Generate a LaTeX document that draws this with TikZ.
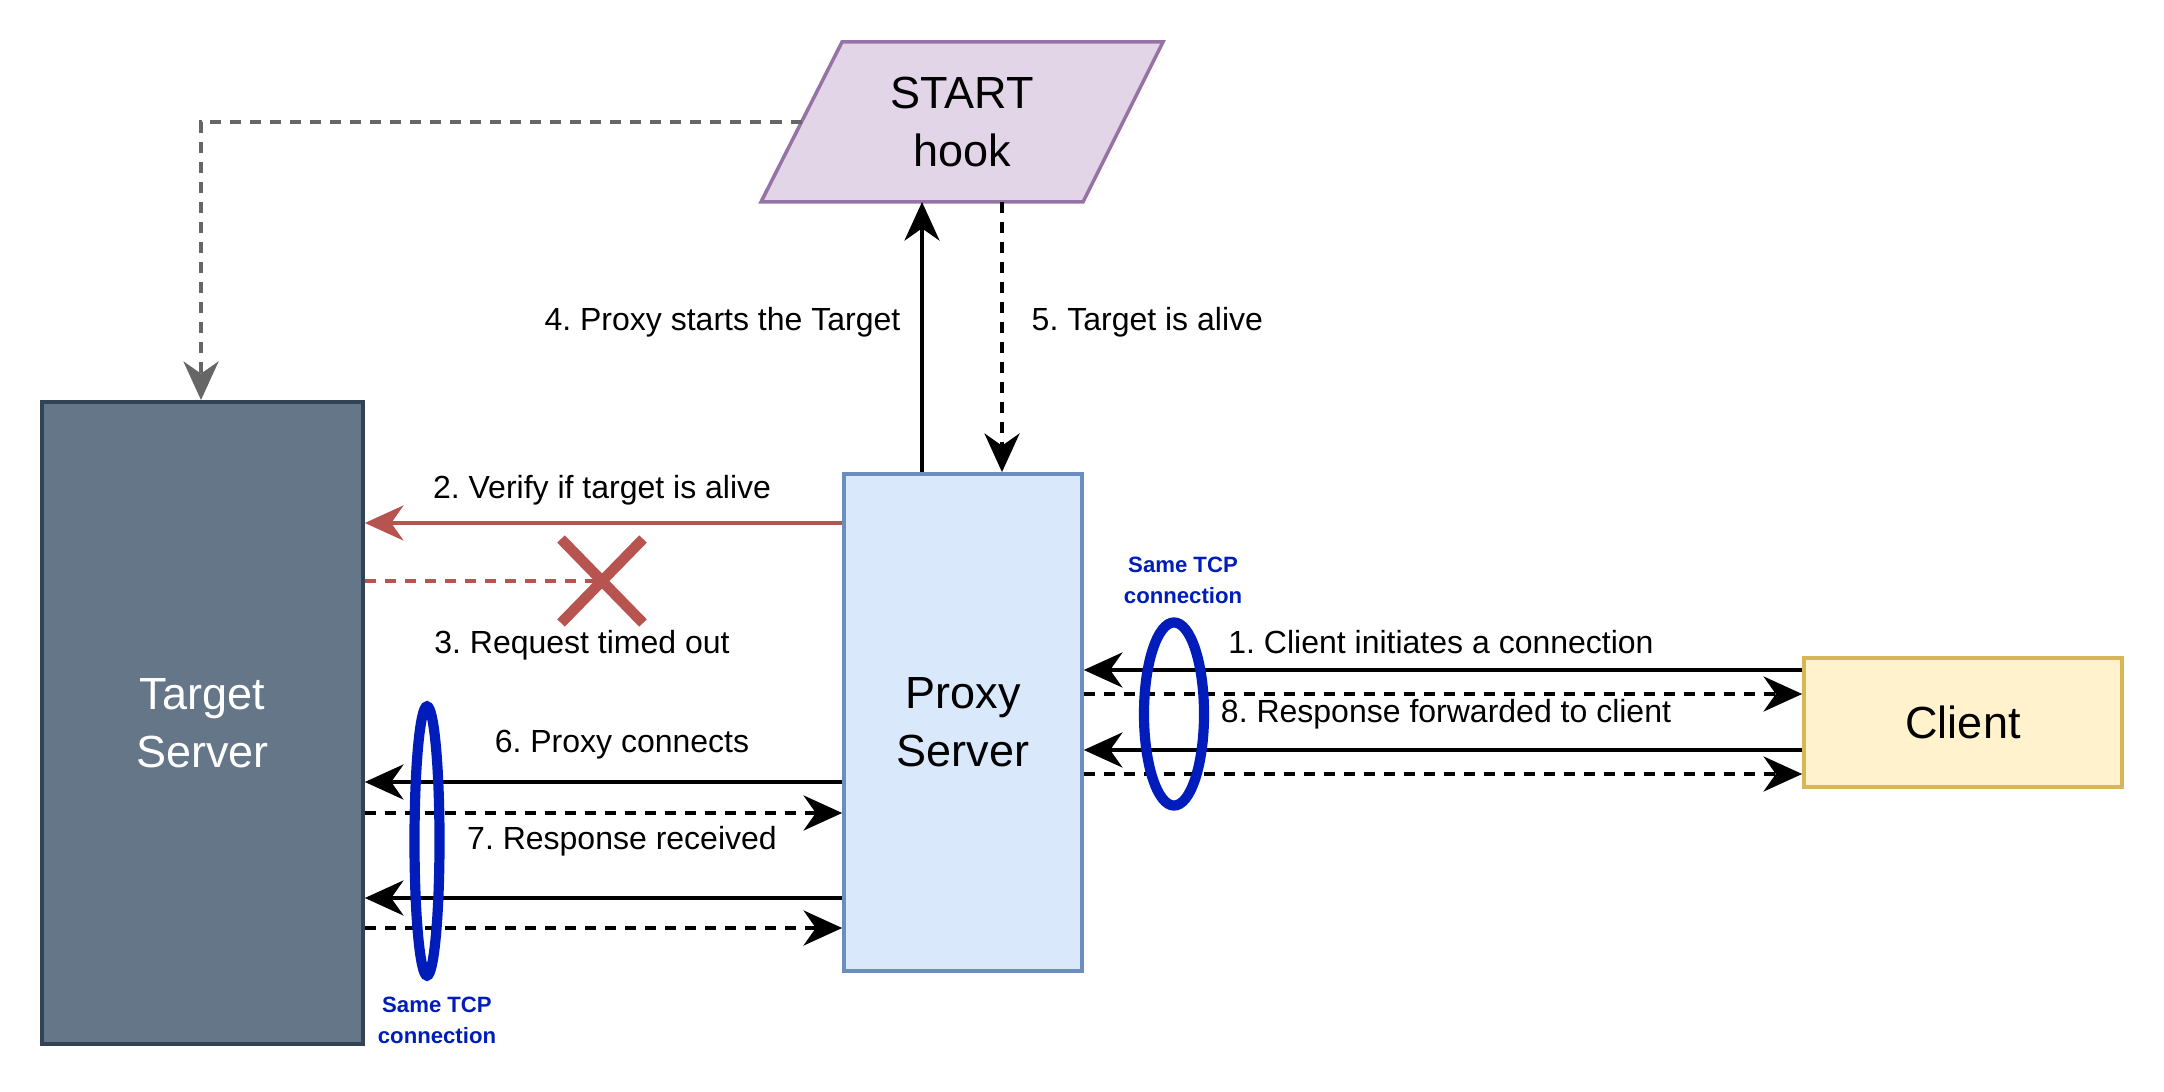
\documentclass[tikz,border=0pt]{standalone}
\usepackage{fontspec}
\setmainfont{Liberation Sans}
\usetikzlibrary{arrows.meta,shapes.geometric}
\frenchspacing

\definecolor{hookfill}{HTML}{E1D5E7}
\definecolor{hookdraw}{HTML}{9673A6}
\definecolor{targetfill}{HTML}{647687}
\definecolor{targetdraw}{HTML}{314354}
\definecolor{proxyfill}{HTML}{DAE8FC}
\definecolor{proxydraw}{HTML}{6C8EBF}
\definecolor{clientfill}{HTML}{FFF2CC}
\definecolor{clientdraw}{HTML}{D6B656}
\definecolor{failred}{HTML}{B85450}
\definecolor{tcpblue}{HTML}{001DBC}
\definecolor{hookgray}{HTML}{666666}

\begin{document}
\begin{tikzpicture}[
  x=0.01cm, y=-0.01cm,
  block/.style={
    draw,
    line width=1pt,
    inner sep=0pt,
    align=center,
    font=\fontsize{12.8}{16.5}\selectfont
  },
  block_target/.style={
    block,
    draw=targetdraw,
    fill=targetfill,
    text=white,
    minimum width=3.21cm,
    minimum height=6.42cm
  },
  block_proxy/.style={
    block,
    draw=proxydraw,
    fill=proxyfill,
    minimum width=2.38cm,
    minimum height=4.97cm
  },
  block_client/.style={
    block,
    draw=clientdraw,
    fill=clientfill,
    minimum width=3.18cm,
    minimum height=1.29cm
  },
  msg/.style={
    font=\fontsize{9.1}{11}\selectfont,
    inner sep=0pt
  },
  tcp_note/.style={
    align=center,
    text=tcpblue,
    font=\fontsize{6.3}{8.8}\selectfont\bfseries,
    inner sep=0pt
  },
  tcp_ring/.style={
    draw=tcpblue,
    ellipse,
    line width=2.9pt,
    inner sep=0pt
  },
  link/.style={
    line width=0.9pt,
    -{Stealth[length=11pt, width=10pt, inset=3.5pt]}
  },
  link_dashed/.style={
    link,
    dash pattern=on 0.11cm off 0.09cm
  }
]%
\useasboundingbox (0,0) rectangle (2164,1092);

% the hook
\coordinate (hook_bl) at (761,202);
\coordinate (hook_tl) at (842,42);
\coordinate (hook_tr) at (1163,42);
\coordinate (hook_br) at (1083,202);
\draw[line width=1pt, draw=hookdraw, fill=hookfill]
  (hook_bl) -- (hook_tl) -- (hook_tr) -- (hook_br) -- cycle;
\node[block, draw=none] (hook) at (962,122) {START\\hook};

% servers and client
\node[block_target] (target) at (202.5,723) {Target\\Server};
\node[block_proxy] (proxy) at (963,722.5) {Proxy\\Server};
\node[block_client] (client) at (1963,722.5) {Client};

% hook links
\coordinate (hook_in) at (922,202);
\coordinate (hook_out) at (1002,202);
\coordinate (hook_left) at (801.5,122);
\draw[link] (proxy.north -| hook_in) -- (hook_in);
\draw[link_dashed] (hook_out) -- (proxy.north -| hook_out);
\draw[link_dashed, color=hookgray] (hook_left) -| (target.north -| 201,0);
\node[msg, anchor=east] (lbl_start) at (901,322) {4. Proxy starts the Target};
\node[msg, anchor=west] (lbl_alive) at (1031,322) {5. Target is alive};

% failed check
\coordinate (timeout) at (602,581);
\draw[link, color=failred] (proxy.west |- 0,523) -- (target.east |- 0,523);
\draw[line width=0.9pt, color=failred, dash pattern=on 0.11cm off 0.09cm]
  (target.east |- timeout) -- (timeout);
\draw[line width=3pt, color=failred]
  (timeout) ++(-41,-42) -- ++(82,84)
  (timeout) ++(-41,42) -- ++(82,-84);
\node[msg] (lbl_verify) at (602,490) {2. Verify if target is alive};
\node[msg] (lbl_timeout) at (582,645) {3. Request timed out};

% proxy <-> target
\foreach \ys/\yd in {782/813, 898/928} {
  \draw[link] (proxy.west |- 0,\ys) -- (target.east |- 0,\ys);
  \draw[link_dashed] (target.east |- 0,\yd) -- (proxy.west |- 0,\yd);
}
\node[msg] (lbl_connect) at (622,745) {6. Proxy connects};
\node[msg] (lbl_received) at (622,841) {7. Response received};

% client <-> proxy
\foreach \ys/\yd in {670/694, 750/774} {
  \draw[link] (client.west |- 0,\ys) -- (proxy.east |- 0,\ys);
  \draw[link_dashed] (proxy.east |- 0,\yd) -- (client.west |- 0,\yd);
}
\node[msg] (lbl_client) at (1441,642) {1. Client initiates a connection};
\node[msg] (lbl_forward) at (1446,714) {8. Response forwarded to client};

% same tcp connection
\node[tcp_ring, minimum width=0.25cm, minimum height=2.69cm] (ring_target) at (427,841) {};
\node[tcp_ring, minimum width=0.60cm, minimum height=1.83cm] (ring_client) at (1174,714) {};
\node[tcp_note] (tcp_target) at (437,1020) {Same TCP\\connection};
\node[tcp_note] (tcp_client) at (1183,580) {Same TCP\\connection};
\end{tikzpicture}
\end{document}
